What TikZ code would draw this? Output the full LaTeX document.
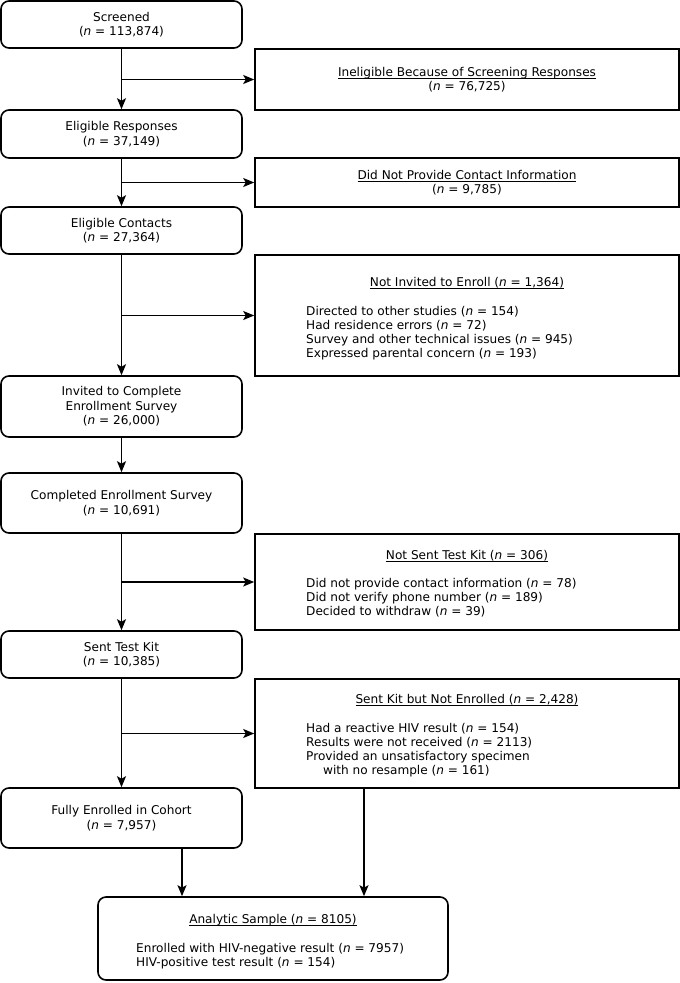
\documentclass[tikz,border=0pt]{standalone}
\usepackage{fontspec}
\setmainfont{DejaVu Sans}
\usetikzlibrary{arrows.meta,calc}
\newcommand{\ulbox}[1]{\underline{\raisebox{0pt}[\height][0.6pt]{#1}}}
\newcommand{\nn}{\textit{n}}
\begin{document}
\begin{tikzpicture}[x=1pt,y=-1pt,
  every node/.style={font=\fontsize{12.1}{14.5}\selectfont, inner sep=0pt},
  lbox/.style={draw, rounded corners=8pt, line width=1.6pt, minimum width=241pt, align=center},
  rbox/.style={draw, line width=1.6pt, minimum width=424pt, align=center},
  arr/.style={line width=1.6pt, -{Stealth[length=11pt,width=9pt,inset=2.5pt]}},
  ttl/.style={anchor=base},
  itm/.style={anchor=base west}]
\useasboundingbox (0,0) rectangle (680,983);
% left column
\node[lbox, minimum height=47pt] (scr) at (121.5,24.5) {Screened\\(\nn{} = 113,874)};
\node[lbox, minimum height=48pt] (elr) at (121.5,134) {Eligible Responses\\(\nn{} = 37,149)};
\node[lbox, minimum height=47pt] (elc) at (121.5,230.5) {Eligible Contacts\\(\nn{} = 27,364)};
\node[lbox, minimum height=61pt] (inv) at (121.5,406.5) {Invited to Complete\\Enrollment Survey\\(\nn{} = 26,000)};
\node[lbox, minimum height=60pt] (comp) at (121.5,503) {Completed Enrollment Survey\\(\nn{} = 10,691)};
\node[lbox, minimum height=47pt] (stk) at (121.5,654.5) {Sent Test Kit\\(\nn{} = 10,385)};
\node[lbox, minimum height=60pt] (full) at (121.5,818) {Fully Enrolled in Cohort\\(\nn{} = 7,957)};
% right column
\node[rbox, minimum height=61pt] (inel) at (467,79.5) {\ulbox{Ineligible Because of Screening Responses}\\(\nn{} = 76,725)};
\node[rbox, minimum height=49pt] (dnp) at (467,182.5) {\ulbox{Did Not Provide Contact Information}\\(\nn{} = 9,785)};
\node[rbox, minimum height=121pt] (nie) at (467,315.5) {};
\node[rbox, minimum height=96pt] (nst) at (467,582) {};
\node[rbox, minimum height=109pt] (skne) at (467,733.5) {};
\node[lbox, minimum width=350pt, minimum height=83pt] (ana) at (273,938.5) {};
% texts of list boxes
\node[ttl] (nie0) at (467,286) {\ulbox{Not Invited to Enroll (\nn{} = 1,364)}};
\node[itm] (nie1) at (306,315) {Directed to other studies (\nn{} = 154)};
\node[itm] (nie2) at (306,329) {Had residence errors (\nn{} = 72)};
\node[itm] (nie3) at (306,343) {Survey and other technical issues (\nn{} = 945)};
\node[itm] (nie4) at (306,357) {Expressed parental concern (\nn{} = 193)};
\node[ttl] (nst0) at (467,559) {\ulbox{Not Sent Test Kit (\nn{} = 306)}};
\node[itm] (nst1) at (306,587.5) {Did not provide contact information (\nn{} = 78)};
\node[itm] (nst2) at (306,601.5) {Did not verify phone number (\nn{} = 189)};
\node[itm] (nst3) at (306,615.5) {Decided to withdraw (\nn{} = 39)};
\node[ttl] (skne0) at (467,703.5) {\ulbox{Sent Kit but Not Enrolled (\nn{} = 2,428)}};
\node[itm] (skne1) at (306,732.5) {Had a reactive HIV result (\nn{} = 154)};
\node[itm] (skne2) at (306,746.5) {Results were not received (\nn{} = 2113)};
\node[itm] (skne3) at (306,760.5) {Provided an unsatisfactory specimen};
\node[itm] (skne4) at (323,774.5) {with no resample (\nn{} = 161)};
\node[ttl] (ana0) at (273,923.5) {\ulbox{Analytic Sample (\nn{} = 8105)}};
\node[itm] (ana1) at (136,952.5) {Enrolled with HIV-negative result (\nn{} = 7957)};
\node[itm] (ana2) at (136,966.5) {HIV-positive test result (\nn{} = 154)};
% connectors
\draw[arr] (scr) -- (elr);
\draw[arr] (elr) -- (elc);
\draw[arr] (elc) -- (inv);
\draw[arr] (inv) -- (comp);
\draw[arr] (comp) -- (stk);
\draw[arr] (stk) -- (full);
\draw[arr] (scr.south |- inel.west) -- (inel.west);
\draw[arr] (elr.south |- dnp.west) -- (dnp.west);
\draw[arr] (elc.south |- nie.west) -- (nie.west);
\draw[arr] (comp.south |- nst.west) -- (nst.west);
\draw[arr] (stk.south |- skne.west) -- (skne.west);
\draw[arr] ([xshift=60.5pt]full.south) -- ([xshift=60.5pt]full.south |- ana.north);
\draw[arr] ([xshift=-103pt]skne.south) -- ([xshift=-103pt]skne.south |- ana.north);
\end{tikzpicture}
\end{document}
